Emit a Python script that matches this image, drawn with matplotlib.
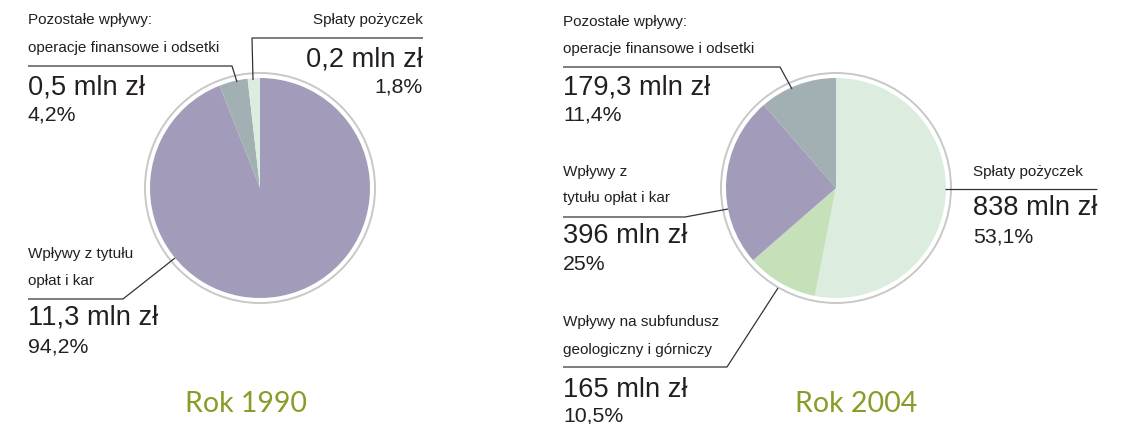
import matplotlib.pyplot as plt
from matplotlib.patches import Circle

# data
labels_1990 = ["Wpływy z tytułu opłat i kar", "Pozostałe wpływy", "Spłaty pożyczek"]
values_1990 = [11.3, 0.5, 0.2]
shares_1990 = [94.2, 4.2, 1.8]
colors_1990 = ["#a29bb9", "#a3b0b3", "#dcede0"]

labels_2004 = ["Spłaty pożyczek", "Wpływy na subfundusz", "Wpływy z tytułu opłat i kar", "Pozostałe wpływy"]
values_2004 = [838, 165, 396, 179.3]
shares_2004 = [53.1, 10.5, 25, 11.4]
colors_2004 = ["#dcede0", "#c6e0b9", "#a29bb9", "#a3b0b3"]

TXT = "#231f20"
FONT = "Liberation Sans"
SMALL, BIG, PCT = 11, 19.6, 15.3


def fmt(v):
    s = f"{v:g}".replace(".", ",")
    return f"{s} mln zł"


def draw_pie(ax, shares, colors, cx, cy):
    # y axis is inverted, so counterclock=True draws clockwise on screen
    ax.pie(shares, colors=colors, center=(cx, cy), radius=110,
           startangle=-90, counterclock=True,
           wedgeprops=dict(linewidth=0))
    ax.add_patch(Circle((cx, cy), 115, fill=False, ec="#c8c8c8", lw=1.4))


def leader(ax, pts):
    xs, ys = zip(*pts)
    ax.plot(xs, ys, color="#333333", lw=0.9, solid_capstyle="butt")


fig = plt.figure(figsize=(11.21, 4.24), dpi=100)
ax = fig.add_axes([0, 0, 1, 1])

draw_pie(ax, shares_1990, colors_1990, 260, 188)
draw_pie(ax, shares_2004, colors_2004, 836, 188)
ax.set_xlim(0, 1121)
ax.set_ylim(424, 0)
ax.set_aspect("equal")
ax.axis("off")


def block(x, ys, small, v, p, ha="left"):
    for yy, s in zip(ys[:len(small)], small):
        ax.text(x, yy, s, fontsize=SMALL, ha=ha, va="center", color=TXT, family=FONT)
    ax.text(x, ys[-2], fmt(v), fontsize=BIG, ha=ha, va="center", color=TXT, family=FONT)
    ax.text(x, ys[-1], f"{p:g}".replace(".", ",") + "%", fontsize=PCT, ha=ha, va="center",
            color=TXT, family=FONT)


# 1990
block(28, [20, 48, 87, 115], ["Pozostałe wpływy:", "operacje finansowe i odsetki"],
      values_1990[1], shares_1990[1])
leader(ax, [(28, 66), (232, 66), (237, 82)])
block(423, [20, 60, 87], ["Spłaty pożyczek"], values_1990[2], shares_1990[2], ha="right")
leader(ax, [(423, 38), (252, 38), (253, 80)])
block(28, [254, 281, 318, 347], ["Wpływy z tytułu", "opłat i kar"],
      values_1990[0], shares_1990[0])
leader(ax, [(28, 299), (123, 299), (175, 258)])

# 2004
block(563, [22, 49, 88, 115], ["Pozostałe wpływy:", "operacje finansowe i odsetki"],
      values_2004[3], shares_2004[3])
leader(ax, [(563, 67), (780, 67), (792, 89)])
block(563, [172, 198, 236, 265], ["Wpływy z", "tytułu opłat i kar"],
      values_2004[2], shares_2004[2])
leader(ax, [(563, 217), (685, 217), (728, 209)])
block(563, [322, 350, 390, 416], ["Wpływy na subfundusz", "geologiczny i górniczy"],
      values_2004[1], shares_2004[1])
leader(ax, [(563, 367), (727, 367), (778, 288)])
block(973, [172, 208, 237], ["Spłaty pożyczek"], values_2004[0], shares_2004[0])
leader(ax, [(945, 189), (1097, 189)])

ax.text(246, 404, "Rok 1990", fontsize=20.5, ha="center", va="center", color="#8c9b28", family="Lato")
ax.text(856, 404, "Rok 2004", fontsize=20.5, ha="center", va="center", color="#8c9b28", family="Lato")

fig.savefig("out.png", dpi=100)
